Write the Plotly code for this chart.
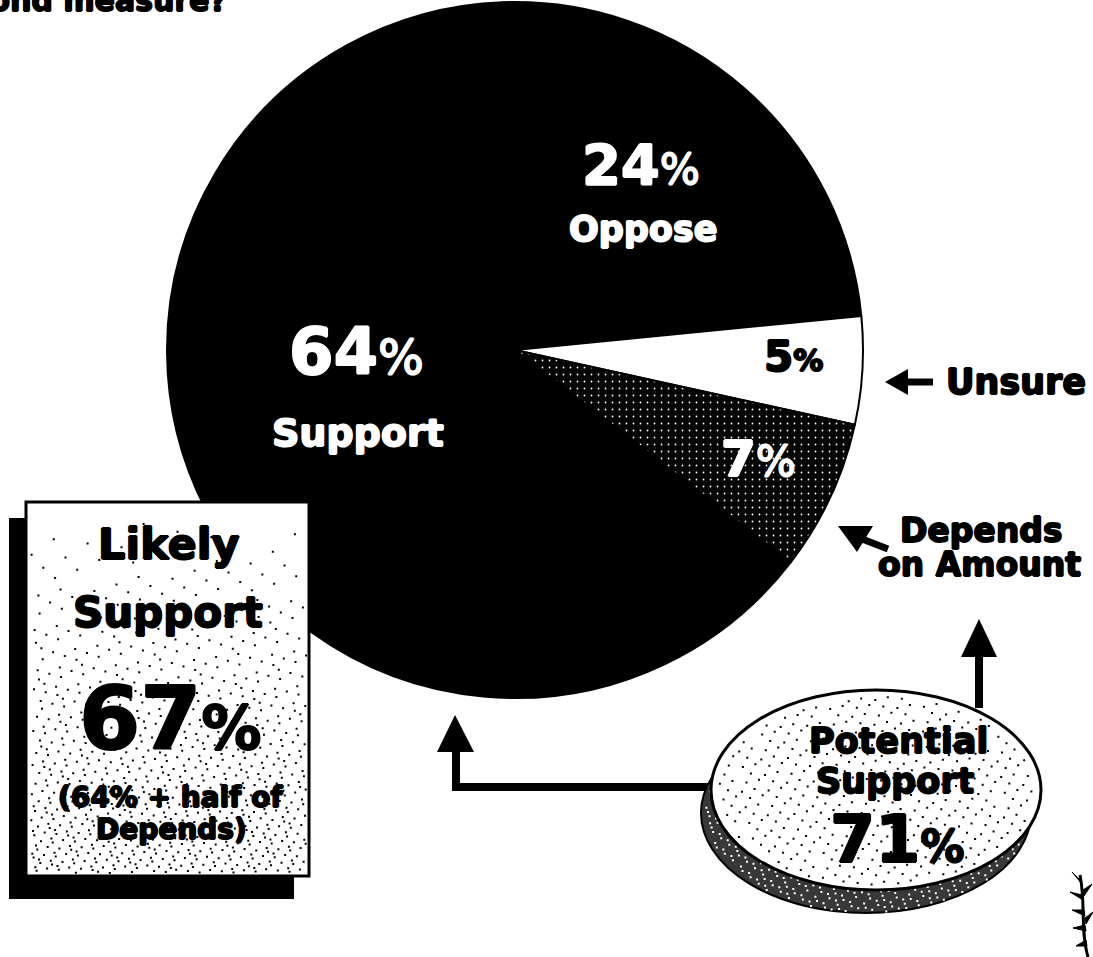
import plotly.graph_objects as go

# ---- data ----
labels = ["Oppose", "Unsure", "Depends on Amount", "Support"]
values = [24, 5, 7, 64]
slice_colors = ["black", "white", "#050505", "black"]
likely_support = 67
potential_support = 71

W, H = 1093, 957
FONT = "DejaVu Sans"

fig = go.Figure()

# pie
fig.add_trace(go.Pie(
    labels=labels, values=values, sort=False, direction="clockwise", rotation=-2,
    marker=dict(colors=slice_colors, line=dict(color="black", width=2),
                pattern=dict(shape=["", "", ".", ""], fgcolor="white", bgcolor=slice_colors,
                             size=7, solidity=0.05)),
    textinfo="none", textposition="none", hoverinfo="label+percent", showlegend=False,
    domain=dict(x=[167 / W, 863 / W], y=[1 - 698 / H, 1 - 2 / H]),
))

# invisible trace to anchor pixel axes
fig.add_trace(go.Scatter(x=[0, W], y=[0, H], mode="markers", marker=dict(opacity=0),
                         hoverinfo="skip", showlegend=False))

# ---- texture helpers (deterministic low-discrepancy dots) ----
A1, A2 = 0.7548776662466927, 0.5698402909980532

def dots_path(n, x0, x1, y0, y1, inside, ypow=1.0, s=2.0, offset=0):
    parts = []
    for i in range(offset, offset + n):
        u = (0.5 + A1 * i) % 1
        v = (0.5 + A2 * i) % 1
        x = x0 + (x1 - x0) * u
        y = y0 + (y1 - y0) * (v ** ypow)
        if inside(x, y):
            parts.append(f"M{x:.1f},{y:.1f}L{x+s:.1f},{y:.1f}L{x+s:.1f},{y+s:.1f}L{x:.1f},{y+s:.1f}Z")
    return "".join(parts)

def in_ell(cx, cy, rx, ry):
    return lambda x, y: ((x - cx) / rx) ** 2 + ((y - cy) / ry) ** 2 < 0.97

shapes = []
def add(**kw):
    kw.setdefault("xref", "x"); kw.setdefault("yref", "y"); kw.setdefault("layer", "above")
    shapes.append(kw)

# ---- arrows ----
add(type="line", x0=456, x1=456, y0=791, y1=748, line=dict(color="black", width=8))
add(type="line", x0=452, x1=716, y0=787, y1=787, line=dict(color="black", width=8))
add(type="path", path="M437,752 L474,752 L455,715 Z", fillcolor="black", line=dict(width=0))
add(type="line", x0=979, x1=979, y0=708, y1=654, line=dict(color="black", width=8))
add(type="path", path="M961,657 L997,657 L979,619 Z", fillcolor="black", line=dict(width=0))
# unsure arrow
add(type="line", x0=904, x1=933, y0=382, y1=382, line=dict(color="black", width=7))
add(type="path", path="M885,382 L908,369 L908,395 Z", fillcolor="black", line=dict(width=0))
# depends arrow
add(type="line", x0=862, x1=888, y0=539, y1=549, line=dict(color="black", width=7))
add(type="path", path="M838,526 L873,526 L857,552 Z", fillcolor="black", line=dict(width=0))

# ---- Likely support box ----
add(type="rect", x0=9, x1=294, y0=518, y1=899, fillcolor="black", line=dict(width=0))
add(type="rect", x0=26, x1=309, y0=502, y1=876, fillcolor="white", line=dict(color="black", width=3))
add(type="path", path=dots_path(900, 30, 305, 506, 872, lambda x, y: True, ypow=0.45, s=2.0),
    fillcolor="black", line=dict(width=0))

# ---- Potential support ellipse ----
rcx, rcy, frx, fry = 866, 813, 165, 100
fcx, fcy = 876, 790
add(type="circle", x0=rcx - frx, x1=rcx + frx, y0=rcy - fry, y1=rcy + fry,
    fillcolor="#383838", line=dict(color="black", width=2))
rim_in = in_ell(rcx, rcy, frx, fry)
face_in = in_ell(fcx, fcy, frx, fry)
add(type="path", path=dots_path(1400, rcx - frx, rcx + frx, rcy - fry, rcy + fry,
                                lambda x, y: rim_in(x, y) and not face_in(x, y), s=2.0, offset=3000),
    fillcolor="white", line=dict(width=0))
add(type="circle", x0=fcx - frx, x1=fcx + frx, y0=fcy - fry, y1=fcy + fry,
    fillcolor="white", line=dict(color="black", width=3))
add(type="path", path=dots_path(600, fcx - frx, fcx + frx, fcy - fry, fcy + fry,
                                in_ell(fcx, fcy, frx - 4, fry - 4), s=2.0, offset=7000),
    fillcolor="black", line=dict(width=0))

# ---- small plant ornament (bottom right) ----
add(type="path", path="M1088,957 C1080,930 1086,905 1080,875", line=dict(color="black", width=3))
add(type="path", path=("M1080,880 L1072,872 L1082,884 Z M1082,895 L1070,892 L1083,900 Z "
                       "M1084,910 L1072,910 L1085,916 Z M1085,925 L1073,928 L1086,931 Z "
                       "M1086,940 L1076,946 L1087,946 Z M1083,890 L1092,884 L1084,896 Z "
                       "M1085,918 L1093,912 L1086,924 Z"),
    fillcolor="black", line=dict(color="black", width=1))

# ---- annotations ----
ann = []
def thick(color):
    d = 0.9
    return (f"{d}px 0 0 {color}, -{d}px 0 0 {color}, 0 {d}px 0 {color}, 0 -{d}px 0 {color}")

def txt(x, y, text, size, color="black", xanchor="center"):
    ann.append(dict(x=x, y=y, xref="x", yref="y", text=text, showarrow=False,
                    xanchor=xanchor, yanchor="middle",
                    font=dict(family=FONT, size=size, color=color, shadow=thick(color))))

def pct(v, small, bold_pct=False):
    p = "%" if not bold_pct else "<b>%</b>"
    return f"<b>{v}</b><span style='font-size:{small}px'>{p}</span>"

txt(641, 164, pct(values[0], 42), 56, "white")
txt(643, 229, "<b>Oppose</b>", 35, "white")
txt(356, 352, pct(values[3], 48), 64, "white")
txt(358, 433, "<b>Support</b>", 38, "white")
txt(793, 356, pct(values[1], 30, True), 42, "black")
txt(758, 459, pct(values[2], 42), 50, "white")
txt(1016, 382, "<b>Unsure</b>", 35)
txt(981, 530, "<b>Depends</b>", 33)
txt(979, 564, "<b>on Amount</b>", 33)

txt(169, 544, "<b>Likely</b>", 43)
txt(168, 612, "<b>Support</b>", 42)
txt(170, 718, pct(likely_support, 60, True), 88)
txt(170, 797, "<b>(64% + half of</b>", 28)
txt(171, 829, "<b>Depends)</b>", 28)

txt(898, 741, "<b>Potential</b>", 35)
txt(895, 781, "<b>Support</b>", 35)
txt(897, 839, pct(potential_support, 44, True), 65)

txt(229, 0, "<b>bond measure?</b>", 30, xanchor="right")

fig.update_layout(
    width=W, height=H, margin=dict(l=0, r=0, t=0, b=0),
    paper_bgcolor="white", plot_bgcolor="rgba(0,0,0,0)",
    xaxis=dict(range=[0, W], domain=[0, 1], visible=False, fixedrange=True),
    yaxis=dict(range=[H, 0], domain=[0, 1], visible=False, fixedrange=True),
    shapes=shapes, annotations=ann, showlegend=False,
)

fig.write_html("out.html", config={"displayModeBar": False},
               post_script="document.body.style.margin='0px';"
                           "document.body.style.overflow='hidden';")
